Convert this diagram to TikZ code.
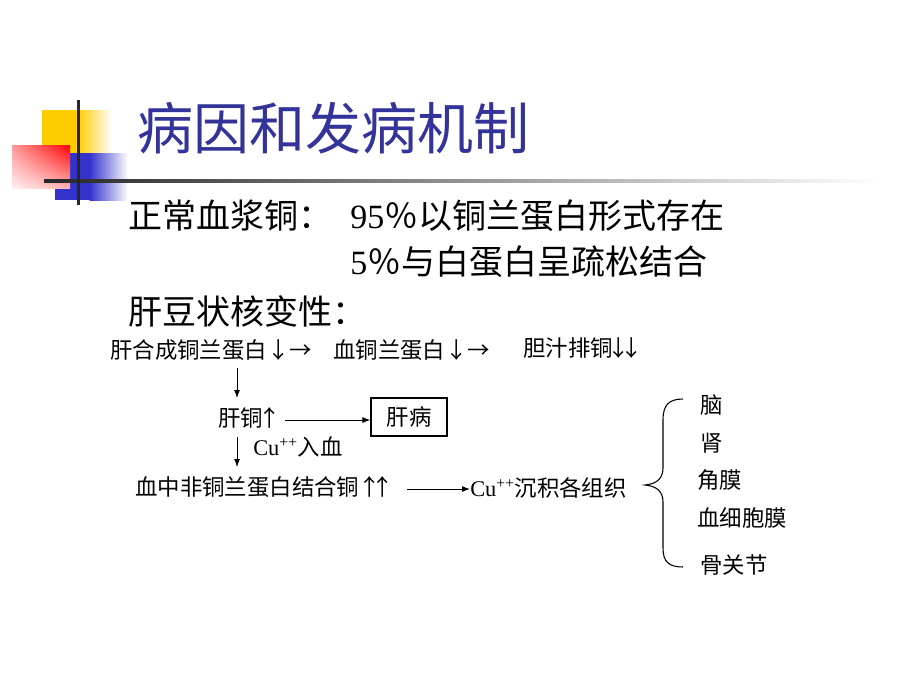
\documentclass[tikz,border=0pt]{standalone}
\usepackage{fontspec}
\setmainfont{Liberation Serif}
\newfontfamily\cjk{Noto Sans CJK SC}
\usetikzlibrary{arrows.meta,shadings}
\definecolor{titleblue}{RGB}{51,51,153}
\definecolor{decoyellow}{RGB}{255,204,0}
\definecolor{decoblue}{RGB}{51,51,204}
\newcommand{\lat}[1]{{\rmfamily #1}}
\tikzset{
  titletext/.style={font=\cjk\fontsize{42}{46}\selectfont, text=titleblue, inner sep=0pt, anchor=west},
  bodytext/.style={font=\cjk\fontsize{25.5}{28}\selectfont, inner sep=0pt, anchor=west},
  smalltext/.style={font=\cjk\fontsize{16.8}{18}\selectfont, inner sep=0pt, anchor=west},
  boxtext/.style={font=\cjk\fontsize{16.8}{18}\selectfont, draw, line width=0.9pt, minimum width=57pt, minimum height=28.5pt, inner sep=0pt},
  arr/.style={line width=0.75pt, -{Latex[length=6pt,width=4.5pt]}},
  bracestyle/.style={line width=0.8pt}
}
\begin{document}
\begin{tikzpicture}[x=0.75pt,y=-0.75pt]
\useasboundingbox (0,0) rectangle (920,690);
\fill[white] (0,0) rectangle (920,690);
% decoration
\fill[decoyellow] (42,110) rectangle (78,153);
\shade[left color=decoyellow, right color=white] (77.5,110) rectangle (112,153);
\fill[decoblue] (55,153) rectangle (90,200);
\shade[left color=decoblue, right color=white] (89.5,153) rectangle (128,200);
\shade[upper right=red, upper left=red!40, lower left=red!6, lower right=red!30] (12,145) rectangle (70,188);
\shade[left color=black!85, right color=white] (44,179.5) rectangle (880,182.5);
\fill[black!85] (76.5,100) rectangle (79.5,205);
% title
\node[titletext] (title) at (137,128) {病因和发病机制};
% body
\node[bodytext] (l1a) at (128,216) {正常血浆铜：};
\node[bodytext] (l1b) at (350,216) {\lat{95}％以铜兰蛋白形式存在};
\node[bodytext] (l2) at (350,262) {\lat{5}％与白蛋白呈疏松结合};
\node[bodytext] (l3) at (128,311) {肝豆状核变性：};
% flow
\node[smalltext] (n1) at (110,350) {肝合成铜兰蛋白↓→};
\node[smalltext] (n2) at (333,350) {血铜兰蛋白↓→};
\node[smalltext] (n3) at (523,348) {胆汁排铜\kern-0.25em↓\kern-0.42em↓};
\node[smalltext] (n4) at (218,418) {肝铜\kern-0.2em↑};
\node[boxtext] (n5) at (409,417) {肝病};
\node[smalltext] (lab) at (253,447) {\lat{Cu\textsuperscript{++}}入血};
\node[smalltext] (n6) at (135,487) {血中非铜兰蛋白结合铜\kern-0.05em↑\kern-0.42em↑};
\node[smalltext] (n7) at (470,488) {\lat{Cu\textsuperscript{++}}沉积各组织};
\coordinate (a1s) at (237,368);
\coordinate (a1e) at (237,398);
\coordinate (a2s) at (285,420);
\coordinate (a3s) at (237,437);
\coordinate (a3e) at (237,467);
\coordinate (a4s) at (407,489);
\draw[arr] (a1s) -- (a1e);
\draw[arr] (a2s) -- (n5.west |- a2s);
\draw[arr] (a3s) -- (a3e);
\draw[arr] (a4s) -- (n7.west |- a4s);
% brace
\coordinate (btip) at (645,485);
\draw[bracestyle] (683,399) .. controls (669,399) and (663,405) .. (663,420) -- (663,468)
  .. controls (663,479) and (656,484) .. (btip)
  .. controls (656,486) and (663,491) .. (663,502) -- (663,548)
  .. controls (663,562) and (669,567) .. (683,567);
% items
\node[smalltext] (t1) at (700,405) {脑};
\node[smalltext] (t2) at (700,443) {肾};
\node[smalltext] (t3) at (697,480) {角膜};
\node[smalltext] (t4) at (697,518) {血细胞膜};
\node[smalltext] (t5) at (700,565) {骨关节};
\end{tikzpicture}
\end{document}
